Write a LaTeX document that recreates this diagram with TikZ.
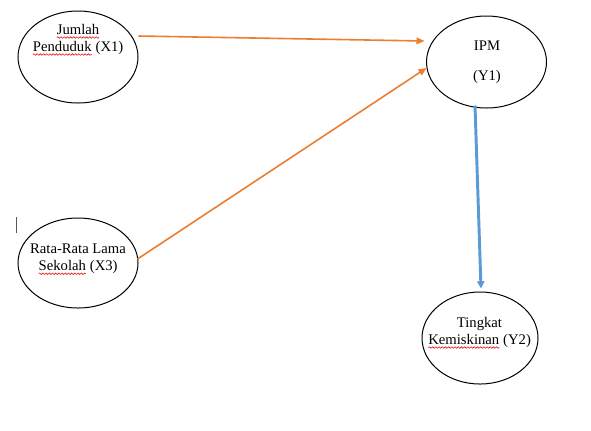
\documentclass[tikz,border=0pt]{standalone}
\usepackage{fontspec}
\setmainfont{Liberation Serif}
\usetikzlibrary{shapes.geometric,arrows.meta,calc,decorations.pathmorphing}
\definecolor{wordorange}{RGB}{237,125,49}
\definecolor{wordblue}{RGB}{91,155,213}
\definecolor{squigred}{RGB}{230,20,20}
\newcommand\squig[1]{\tikz[baseline=(w.base)]{\node[inner sep=0pt,outer sep=0pt](w){#1};\draw[squigred,line width=0.45pt,decorate,decoration={snake,amplitude=0.6pt,segment length=2.4pt}]($(w.base west)+(0pt,-2.2pt)$)--($(w.base east)+(0pt,-2.2pt)$);}}
\begin{document}
\begin{tikzpicture}[x=0.75pt,y=-0.75pt,
  oval/.style={ellipse,draw=black,line width=0.75pt,inner sep=0pt,minimum width=90pt,minimum height=69pt},
  lbl/.style={align=center,inner sep=0pt,font=\fontsize{11pt}{12.75pt}\selectfont},
  orangearrow/.style={draw=wordorange,line width=1.2pt,-{Triangle[length=6pt,width=5pt]}},
  bluearrow/.style={draw=wordblue,line width=2.2pt,-{Triangle[length=5.5pt,width=5.5pt]}}]
\fill[white] (0,0) rectangle (591,430);
\useasboundingbox (0,0) rectangle (591,430);
% ellipses
\node[oval] (x1) at (78,57) {};
\node[oval] (y1) at (486.5,62) {};
\node[oval,minimum height=67.5pt] (x3) at (78,263) {};
\node[oval,minimum width=87pt] (y2) at (480,338) {};
% labels
\node[lbl] (x1t) at (78,40) {\squig{Jumlah}\\\squig{Penduduk} (X1)};
\node[lbl] (y1t) at (487,62) {IPM\\[9.75pt](Y1)};
\node[lbl] (x3t) at (78,259.5) {Rata-Rata Lama\\\squig{Sekolah} (X3)};
\node[lbl] (y2t) at (479.5,333) {Tingkat\\\squig{Kemiskinan} (Y2)};
% connectors
\draw[orangearrow] ($(x1.east)+(0,-21)$) -- ($(y1.west)+(-1.5,-21)$);
\draw[orangearrow] ($(x3.east)+(-1,-4)$) -- ($(y1.west)+(0.5,6)$);
\draw[bluearrow] ($(y1.south)+(-11.5,-3)$) -- ($(y2.north)+(1,-3)$);
% text cursor mark
\coordinate (cura) at (16,217);
\coordinate (curb) at (16,233);
\draw[black!65,line width=0.75pt] (cura) -- (curb);
\end{tikzpicture}
\end{document}
